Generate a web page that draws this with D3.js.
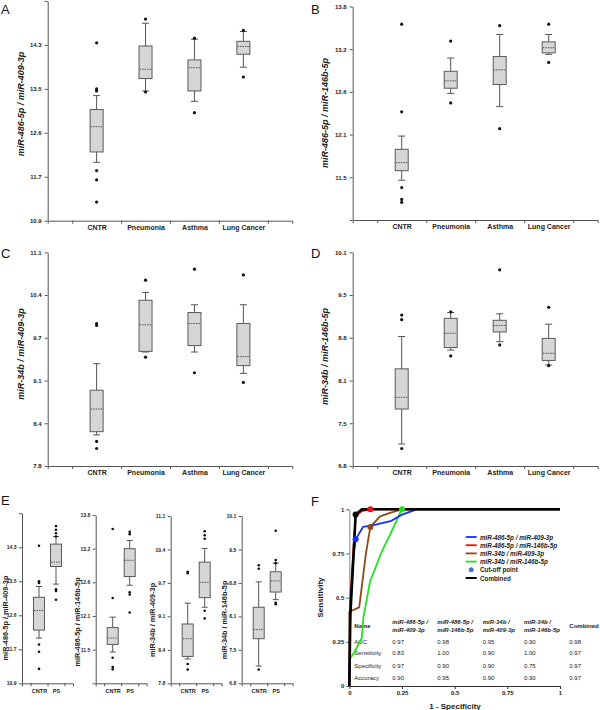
<!DOCTYPE html>
<html><head><meta charset="utf-8">
<script src="https://cdn.jsdelivr.net/npm/d3@7"></script>
<style>
body{margin:0;background:#fff;}
svg{display:block;font-family:Arial,"Liberation Sans",sans-serif;}
</style></head><body>
<svg id="chart" width="600" height="710"></svg>
<script>
// ---------- DATA ----------
const groups4 = ["CNTR", "Pneumonia", "Asthma", "Lung Cancer"];
const groups2 = ["CNTR", "PS"];

// box stats: [lower whisker, Q1, median, Q3, upper whisker]
const boxA = [[12.03,12.23,12.72,13.05,13.32],[13.41,13.65,13.83,14.28,14.72],[13.21,13.41,13.86,14.01,14.41],[13.87,14.12,14.27,14.37,14.56]];
const outA = [[14.34,13.45,13.41,11.87,11.69,11.26],[14.80,13.39],[14.43,12.99],[14.58,13.68]];
const boxB = [[11.44,11.57,11.68,11.86,12.04],[12.62,12.69,12.79,12.92,13.10],[12.44,12.74,12.94,13.12,13.42],[13.15,13.17,13.24,13.32,13.42]];
const outB = [[13.56,12.37,11.34,11.18,11.14],[13.33,12.49],[13.54,12.14],[13.56,13.04]];
const boxC = [[8.28,8.33,8.68,8.97,9.38],[9.56,9.57,9.98,10.36,10.48],[9.56,9.66,10.0,10.17,10.29],[9.23,9.35,9.49,10.0,10.29]];
const outC = [[10.0,9.97,8.18,8.07],[10.67,9.48],[10.84,9.24],[10.75,9.09]];
const boxD = [[7.14,7.68,7.86,8.30,8.80],[8.59,8.63,8.85,9.08,9.17],[8.72,8.87,8.97,9.05,9.15],[8.36,8.43,8.54,8.77,8.99]];
const outD = [[9.13,9.06,7.07],[9.18,8.50],[9.83,8.67],[9.25,8.35]];

// panel E: pooled patients (PS)
const boxPS1 = [13.38,13.82,13.93,14.38,14.57];
const outPS1 = [14.83,14.74,14.65,14.57,13.25,13.21,12.99];
const boxPS2 = [12.59,12.74,13.02,13.22,13.36];
const outPS2 = [13.51,13.47,12.47,12.43,12.12];
const boxPS3 = [9.30,9.49,9.79,10.19,10.46];
const outPS3 = [10.80,10.72,10.65,9.23,9.08];
const boxPS4 = [8.45,8.60,8.82,9.00,9.17];
const outPS4 = [9.81,9.23,9.17,8.39,8.36];

// axis ticks
const ticksA = [10.9,11.75,12.6,13.45,14.3,15.15];
const labelsA = ["10.9","11.7","12.6","13.5","14.3",""];
const ticksB = [10.9,11.48,12.06,12.64,13.22,13.8];
const labelsB = ["","11.5","12.1","12.6","13.2","13.8"];
const ticksC = [7.8,8.46,9.12,9.78,10.44,11.1];
const labelsC = ["7.8","8.4","9.1","9.7","10.4","11.1"];
const ticksD = [6.8,7.46,8.12,8.78,9.44,10.1];
const labelsD = ["6.8","7.5","8.1","8.8","9.5","10.1"];

const titles = ["miR-486-5p / miR-409-3p","miR-486-5p / miR-146b-5p","miR-34b / miR-409-3p","miR-34b / miR-146b-5p"];

// ROC curves: [1 - specificity, sensitivity]
const rocBlue  = [[0,0],[0.005,0.45],[0.02,0.73],[0.03,0.83],[0.065,0.90],[0.115,0.91],[0.2,0.935],[0.25,0.97],[0.32,1],[1,1]];
const rocRed   = [[0,0],[0.005,0.5],[0.03,0.96],[0.06,0.99],[0.10,1],[1,1]];
const rocBrown = [[0,0],[0,0.42],[0.047,0.445],[0.079,0.75],[0.10,0.90],[0.146,0.96],[0.193,0.98],[0.25,1],[1,1]];
const rocGreen = [[0,0],[0,0.147],[0.025,0.194],[0.059,0.27],[0.067,0.39],[0.083,0.49],[0.098,0.59],[0.154,0.76],[0.193,0.855],[0.249,1],[1,1]];
const rocBlack = [[0,0],[0.005,0.4],[0.03,0.97],[0.06,1],[1,1]];
const cutoffs  = [[0.03,0.83],[0.10,1.0],[0.10,0.90],[0.25,1.0],[0.03,0.97]];
const rocTicks = [0,0.25,0.5,0.75,1];
const rocTickLabels = ["0","0.25","0.5","0.75","1"];

const legendLabels = ["miR-486-5p / miR-409-3p","miR-486-5p / miR-146b-5p","miR-34b / miR-409-3p","miR-34b / miR-146b-5p","Cut-off point","Combined"];
const tableHeads = ["miR-486-5p / miR-409-3p","miR-486-5p / miR-146b-5p","miR-34b / miR-409-3p","miR-34b / miR-146b-5p","Combined"];
const tableRows = ["AUC","Sensitivity","Specificity","Accuracy"];
const tableVals = [[0.97,0.98,0.95,0.90,0.98],[0.83,1.00,0.90,1.00,0.97],[0.97,0.90,0.90,0.75,0.97],[0.90,0.95,0.90,0.90,0.97]];

// ---------- DRAW ----------
const svg = d3.select("#chart");
const axisCol = "#555";

function boxPanel(o) {
  const g = svg.append("g");
  const y = d3.scaleLinear().domain([o.ticks[0], o.ticks[o.ticks.length-1]]).range([o.yb, o.yt]);
  const xp = d3.scalePoint().domain(o.cats).range([o.x0, o.x1]).padding(1);
  const xl = d3.scaleLinear().domain([0, o.cats.length+1]).range([o.x0, o.x1]);
  const ya = g.append("g").attr("transform", `translate(${o.x0},0)`)
    .call(d3.axisLeft(y).tickValues(o.ticks).tickFormat((d,i)=>o.labels[i]).tickSize(3).tickSizeOuter(0).tickPadding(o.ypad));
  const xa = g.append("g").attr("transform", `translate(0,${o.yb})`)
    .call(d3.axisBottom(xl).tickValues(d3.range(0.5, o.cats.length+1, 1)).tickFormat("").tickSize(3).tickSizeOuter(3));
  const xc = g.append("g").attr("transform", `translate(0,${o.yb})`)
    .call(d3.axisBottom(xp).tickSize(0).tickPadding(o.cpad));
  xc.select(".domain").remove();
  [ya, xa].forEach(a => { a.select(".domain").attr("stroke", axisCol); a.selectAll(".tick line").attr("stroke", axisCol); });
  ya.selectAll("text").attr("font-size", o.tfs).attr("font-weight","bold").attr("fill","#222").attr("font-family","Arial, 'Liberation Sans', sans-serif");
  xc.selectAll("text").attr("font-size", o.cfs).attr("font-weight","bold").attr("fill","#222").attr("font-family","Arial, 'Liberation Sans', sans-serif");

  o.cats.forEach((c, i) => {
    const s = o.stats[i], cx = xp(c), bw = o.bw, cw = o.cw;
    const bg = g.append("g");
    bg.append("line").attr("x1",cx).attr("x2",cx).attr("y1",y(s[0])).attr("y2",y(s[1])).attr("stroke",axisCol).attr("stroke-width",1);
    bg.append("line").attr("x1",cx).attr("x2",cx).attr("y1",y(s[3])).attr("y2",y(s[4])).attr("stroke",axisCol).attr("stroke-width",1);
    [s[0], s[4]].forEach(v => bg.append("line").attr("x1",cx-cw/2).attr("x2",cx+cw/2).attr("y1",y(v)).attr("y2",y(v)).attr("stroke",axisCol).attr("stroke-width",1));
    bg.append("rect").attr("x",cx-bw/2).attr("width",bw).attr("y",y(s[3])).attr("height",y(s[1])-y(s[3]))
      .attr("fill","#d6d6d6").attr("stroke","#5a5a5a").attr("stroke-width",1);
    bg.append("line").attr("x1",cx-bw/2+0.5).attr("x2",cx+bw/2-0.5).attr("y1",y(s[2])).attr("y2",y(s[2]))
      .attr("stroke","#333").attr("stroke-width",0.8).attr("stroke-dasharray","1.5,1");
    bg.selectAll("circle.o").data(o.out[i]).enter().append("circle")
      .attr("cx",cx).attr("cy",d=>y(d)).attr("r",o.r).attr("fill","#111");
  });
  g.append("text").attr("transform",`translate(${o.tx},${o.ty}) rotate(-90)`)
    .attr("text-anchor","middle").attr("dominant-baseline","central")
    .attr("font-size",o.ttfs).attr("font-weight","bold").attr("font-style",o.italic?"italic":"normal").attr("fill","#222")
    .text(o.title);
}

const big = {tfs:6, cfs:7, ttfs:9, bw:13, cw:7, r:1.6, ypad:3, cpad:4.2, italic:true};
boxPanel(Object.assign({}, big, {cats:groups4, x0:47.7, x1:292.3, yt:1, yb:220.7, ticks:ticksA, labels:labelsA, stats:boxA, out:outA, title:titles[0], tx:20.7, ty:104}));
boxPanel(Object.assign({}, big, {cats:groups4, x0:352.7, x1:597.7, yt:6.5, yb:220, ticks:ticksB, labels:labelsB, stats:boxB, out:outB, title:titles[1], tx:325, ty:113}));
boxPanel(Object.assign({}, big, {cats:groups4, x0:47.7, x1:292.3, yt:252.3, yb:466, ticks:ticksC, labels:labelsC, stats:boxC, out:outC, title:titles[2], tx:20.5, ty:354}));
boxPanel(Object.assign({}, big, {cats:groups4, x0:352.7, x1:597.7, yt:252.3, yb:466, ticks:ticksD, labels:labelsD, stats:boxD, out:outD, title:titles[3], tx:325, ty:356.5}));

const small = {tfs:5, cfs:5.5, ttfs:7.3, bw:11, cw:6, r:1.3, ypad:2.5, cpad:5.5, italic:false};
boxPanel(Object.assign({}, small, {cats:groups2, x0:22, x1:73, yt:513.3, yb:683.3, ticks:ticksA, labels:labelsA, stats:[boxA[0], boxPS1], out:[outA[0], outPS1], title:titles[0], tx:5.5, ty:618}));
boxPanel(Object.assign({}, small, {cats:groups2, x0:95.7, x1:146.7, yt:515, yb:683.3, ticks:ticksB, labels:labelsB, stats:[boxB[0], boxPS2], out:[outB[0], outPS2], title:titles[1], tx:77.5, ty:622}));
boxPanel(Object.assign({}, small, {cats:groups2, x0:170.7, x1:221.7, yt:516, yb:683.3, ticks:ticksC, labels:labelsC, stats:[boxC[0], boxPS3], out:[outC[0], outPS3], title:titles[2], tx:152.5, ty:620}));
boxPanel(Object.assign({}, small, {cats:groups2, x0:241.7, x1:292.7, yt:516, yb:683.3, ticks:ticksD, labels:labelsD, stats:[boxD[0], boxPS4], out:[outD[0], outPS4], title:titles[3], tx:224.5, ty:620}));

// panel letters
[["A",1,13.5],["B",311,13.5],["C",1,258],["D",311,258],["E",1,505],["F",311,506]].forEach(p =>
  svg.append("text").attr("x",p[1]).attr("y",p[2]).attr("font-size",13).attr("fill","#111").text(p[0]));

// ---------- ROC ----------
const rx = d3.scaleLinear().domain([0,1]).range([349.3,560]);
const ry = d3.scaleLinear().domain([0,1]).range([686,509.3]);
const rg = svg.append("g");
const yAx = rg.append("g").attr("transform","translate(349.3,0)")
  .call(d3.axisLeft(ry).tickValues(rocTicks).tickFormat((d,i)=>rocTickLabels[i]).tickSize(3).tickSizeOuter(0).tickPadding(2));
yAx.select(".domain").attr("stroke","#999").attr("stroke-width",1.2);
yAx.selectAll(".tick line").attr("stroke","#555");
const xAx = rg.append("g").attr("transform","translate(0,686)")
  .call(d3.axisBottom(rx).tickValues(rocTicks).tickFormat((d,i)=>rocTickLabels[i]).tickSize(3).tickSizeOuter(0).tickPadding(2));
xAx.select(".domain").attr("stroke","#333").attr("stroke-width",1.2);
xAx.selectAll(".tick line").attr("stroke","#333");
[yAx, xAx].forEach(a => a.selectAll("text").attr("font-size",6).attr("font-weight","bold").attr("fill","#222").attr("font-family","Arial, 'Liberation Sans', sans-serif"));

rg.append("text").attr("transform","translate(320.7,597.5) rotate(-90)").attr("text-anchor","middle").attr("dominant-baseline","central")
  .attr("font-size",8).attr("font-weight","bold").attr("fill","#222").text("Sensitivity");
rg.append("text").attr("x",455).attr("y",709).attr("text-anchor","middle")
  .attr("font-size",8).attr("font-weight","bold").attr("fill","#222").text("1 - Specificity");

// table (drawn under curves)
const colX = [392.3, 437.3, 482.7, 524, 569.3];
const tg = rg.append("g").attr("font-size",6).attr("fill","#222");
tg.append("text").attr("x",354.3).attr("y",627.7).attr("font-weight","bold").text("Name");
tableHeads.forEach((h,i) => {
  const parts = h.split(" / ");
  if (parts.length === 2) {
    tg.append("text").attr("x",colX[i]).attr("y",623.7).attr("font-weight","bold").attr("font-style","italic").text(parts[0] + " /");
    tg.append("text").attr("x",colX[i]).attr("y",632).attr("font-weight","bold").attr("font-style","italic").text(parts[1]);
  } else {
    tg.append("text").attr("x",colX[i]).attr("y",627.7).attr("font-weight","bold").text(h);
  }
});
const rowY = [643.7, 655.3, 667.7, 679.7];
tableRows.forEach((r,j) => {
  tg.append("text").attr("x",354.3).attr("y",rowY[j]).text(r);
  tableVals[j].forEach((v,i) => tg.append("text").attr("x",colX[i]).attr("y",rowY[j]).text(v.toFixed(2)));
});

const line = d3.line().x(d=>rx(d[0])).y(d=>ry(d[1]));
const rocSeries = [[rocGreen,"#22e022",1.8],[rocBrown,"#8a4a1c",1.8],[rocRed,"#ee1111",1.8],[rocBlue,"#1a2eff",1.8],[rocBlack,"#000",2.6]];
rocSeries.forEach(s => rg.append("path").attr("d",line(s[0])).attr("fill","none").attr("stroke",s[1]).attr("stroke-width",s[2]).attr("stroke-linejoin","round"));
const cutColors = ["#1a2eff","#ee1111","#8a4a1c","#22e022","#000"];
cutoffs.forEach((c,i) => rg.append("circle").attr("cx",rx(c[0])).attr("cy",ry(c[1])).attr("r",3).attr("fill",cutColors[i]));

// legend
const legColors = ["#1a2eff","#ee1111","#8a4a1c","#22e022",null,"#000"];
legendLabels.forEach((l,i) => {
  const yy = 537 + i*8.2;
  if (i === 4) {
    rg.append("circle").attr("cx",471.2).attr("cy",yy).attr("r",2.5).attr("fill","#3a7bdc");
  } else {
    rg.append("line").attr("x1",465.7).attr("x2",476.7).attr("y1",yy).attr("y2",yy).attr("stroke",legColors[i]).attr("stroke-width",i===5?2:1.8);
  }
  rg.append("text").attr("x",480).attr("y",yy).attr("dominant-baseline","central").attr("font-size",6.3)
    .attr("font-weight","bold").attr("font-style", i < 4 ? "italic" : "normal").attr("fill","#222").text(l);
});
</script>
</body></html>
